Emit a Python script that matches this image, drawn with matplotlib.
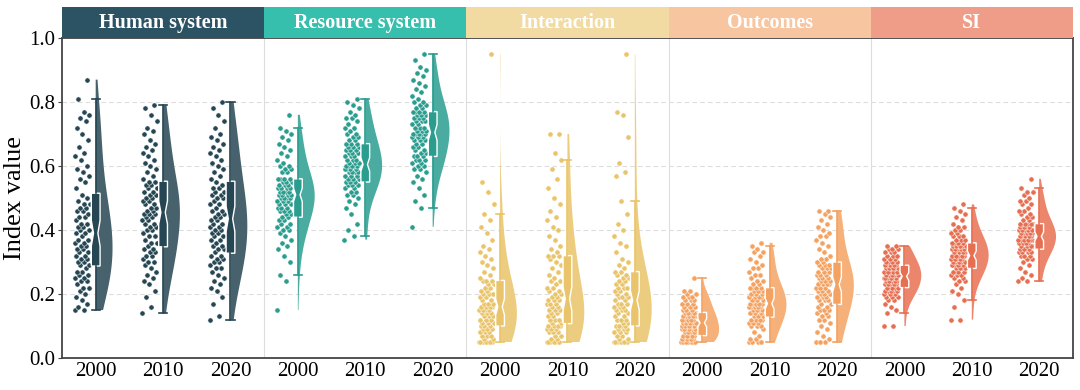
import matplotlib

matplotlib.use("Agg")
import matplotlib.pyplot as plt
import matplotlib.transforms as mtransforms
from matplotlib.patches import Rectangle
import numpy as np

plt.rcParams["font.family"] = ["Liberation Serif", "DejaVu Serif"]

PANELS = ["Human system", "Resource system", "Interaction", "Outcomes", "SI"]
YEARS = ["2000", "2010", "2020"]
COLORS = ["#264653", "#2a9d8f", "#e9c46a", "#f4a261", "#e76f51"]
HEAD_COLORS = ["#2c5364", "#35bfac", "#f2dba3", "#f7c6a1", "#ef9c88"]

human_2000 = [0.15, 0.15, 0.16, 0.17, 0.18, 0.19, 0.20, 0.21, 0.22, 0.22,
              0.23, 0.24, 0.24, 0.25, 0.25, 0.26, 0.26, 0.27, 0.27, 0.28,
              0.29, 0.29, 0.30, 0.30, 0.31, 0.31, 0.32, 0.32, 0.33, 0.33,
              0.34, 0.34, 0.35, 0.35, 0.36, 0.36, 0.37, 0.37, 0.38, 0.39,
              0.39, 0.40, 0.40, 0.41, 0.41, 0.42, 0.42, 0.43, 0.44, 0.44,
              0.45, 0.46, 0.46, 0.47, 0.47, 0.48, 0.48, 0.49, 0.50, 0.51,
              0.53, 0.55, 0.56, 0.57, 0.58, 0.59, 0.60, 0.62, 0.63, 0.64,
              0.66, 0.68, 0.70, 0.72, 0.74, 0.75, 0.76, 0.77, 0.81, 0.87]
human_2010 = [0.14, 0.16, 0.19, 0.21, 0.23, 0.24, 0.25, 0.26, 0.27, 0.28,
              0.29, 0.30, 0.30, 0.31, 0.32, 0.32, 0.33, 0.33, 0.34, 0.34,
              0.35, 0.36, 0.36, 0.37, 0.38, 0.38, 0.39, 0.40, 0.40, 0.41,
              0.41, 0.42, 0.42, 0.43, 0.43, 0.44, 0.44, 0.45, 0.45, 0.45,
              0.46, 0.46, 0.47, 0.47, 0.48, 0.48, 0.49, 0.49, 0.50, 0.50,
              0.51, 0.51, 0.52, 0.52, 0.53, 0.53, 0.54, 0.54, 0.55, 0.55,
              0.56, 0.57, 0.58, 0.59, 0.60, 0.61, 0.62, 0.63, 0.64, 0.65,
              0.66, 0.67, 0.68, 0.70, 0.71, 0.72, 0.74, 0.76, 0.78, 0.79]
human_2020 = [0.12, 0.13, 0.17, 0.19, 0.21, 0.22, 0.23, 0.24, 0.25, 0.26,
              0.27, 0.28, 0.28, 0.29, 0.30, 0.30, 0.31, 0.31, 0.32, 0.32,
              0.33, 0.34, 0.34, 0.35, 0.35, 0.36, 0.37, 0.37, 0.38, 0.38,
              0.39, 0.39, 0.40, 0.40, 0.41, 0.41, 0.42, 0.42, 0.43, 0.43,
              0.44, 0.44, 0.45, 0.45, 0.46, 0.46, 0.47, 0.48, 0.48, 0.49,
              0.50, 0.50, 0.51, 0.51, 0.52, 0.52, 0.53, 0.53, 0.54, 0.55,
              0.56, 0.57, 0.58, 0.59, 0.60, 0.61, 0.62, 0.63, 0.64, 0.65,
              0.66, 0.67, 0.68, 0.69, 0.70, 0.72, 0.74, 0.76, 0.78, 0.80]

resource_2000 = [0.15, 0.24, 0.26, 0.30, 0.32, 0.34, 0.35, 0.36, 0.37, 0.38,
                 0.39, 0.40, 0.40, 0.41, 0.41, 0.42, 0.42, 0.43, 0.43, 0.44,
                 0.44, 0.45, 0.45, 0.46, 0.46, 0.46, 0.47, 0.47, 0.47, 0.48,
                 0.48, 0.48, 0.49, 0.49, 0.49, 0.50, 0.50, 0.50, 0.50, 0.51,
                 0.51, 0.51, 0.51, 0.52, 0.52, 0.52, 0.52, 0.53, 0.53, 0.53,
                 0.53, 0.54, 0.54, 0.54, 0.55, 0.55, 0.55, 0.56, 0.56, 0.56,
                 0.56, 0.58, 0.58, 0.59, 0.59, 0.60, 0.60, 0.61, 0.62, 0.63,
                 0.64, 0.65, 0.66, 0.67, 0.68, 0.69, 0.70, 0.71, 0.72, 0.76]
resource_2010 = [0.37, 0.38, 0.40, 0.42, 0.45, 0.47, 0.48, 0.49, 0.50, 0.51,
                 0.51, 0.52, 0.52, 0.53, 0.53, 0.54, 0.54, 0.54, 0.55, 0.55,
                 0.55, 0.56, 0.56, 0.56, 0.57, 0.57, 0.57, 0.58, 0.58, 0.58,
                 0.58, 0.59, 0.59, 0.59, 0.59, 0.60, 0.60, 0.60, 0.60, 0.60,
                 0.61, 0.61, 0.61, 0.62, 0.62, 0.62, 0.63, 0.63, 0.63, 0.64,
                 0.64, 0.64, 0.65, 0.65, 0.65, 0.66, 0.66, 0.66, 0.67, 0.67,
                 0.67, 0.68, 0.68, 0.69, 0.69, 0.70, 0.70, 0.71, 0.72, 0.72,
                 0.73, 0.74, 0.75, 0.75, 0.76, 0.77, 0.78, 0.79, 0.80, 0.81]
resource_2020 = [0.41, 0.47, 0.49, 0.51, 0.53, 0.55, 0.56, 0.57, 0.58, 0.59,
                 0.59, 0.60, 0.60, 0.61, 0.61, 0.62, 0.62, 0.62, 0.63, 0.63,
                 0.63, 0.64, 0.64, 0.65, 0.65, 0.66, 0.66, 0.67, 0.67, 0.68,
                 0.68, 0.68, 0.69, 0.69, 0.69, 0.70, 0.70, 0.70, 0.70, 0.70,
                 0.71, 0.71, 0.71, 0.72, 0.72, 0.72, 0.73, 0.73, 0.74, 0.74,
                 0.74, 0.75, 0.75, 0.75, 0.76, 0.76, 0.76, 0.77, 0.77, 0.77,
                 0.77, 0.78, 0.78, 0.79, 0.79, 0.80, 0.80, 0.81, 0.82, 0.83,
                 0.84, 0.85, 0.86, 0.87, 0.88, 0.89, 0.90, 0.91, 0.93, 0.95]

interaction_2000 = [0.05, 0.05, 0.05, 0.05, 0.05, 0.05, 0.05, 0.06, 0.06, 0.07,
                    0.07, 0.07, 0.08, 0.08, 0.08, 0.09, 0.09, 0.09, 0.10, 0.10,
                    0.10, 0.11, 0.11, 0.11, 0.12, 0.12, 0.12, 0.13, 0.13, 0.13,
                    0.14, 0.14, 0.14, 0.15, 0.15, 0.15, 0.15, 0.16, 0.16, 0.16,
                    0.16, 0.17, 0.17, 0.17, 0.18, 0.18, 0.19, 0.19, 0.20, 0.20,
                    0.20, 0.21, 0.21, 0.22, 0.22, 0.23, 0.23, 0.24, 0.24, 0.24,
                    0.25, 0.26, 0.27, 0.28, 0.29, 0.30, 0.31, 0.32, 0.33, 0.34,
                    0.35, 0.37, 0.39, 0.41, 0.43, 0.45, 0.48, 0.52, 0.55, 0.95]
interaction_2010 = [0.05, 0.05, 0.05, 0.05, 0.05, 0.05, 0.06, 0.06, 0.07, 0.07,
                    0.08, 0.08, 0.08, 0.09, 0.09, 0.09, 0.10, 0.10, 0.10, 0.10,
                    0.11, 0.11, 0.12, 0.12, 0.12, 0.13, 0.13, 0.14, 0.14, 0.15,
                    0.15, 0.15, 0.16, 0.16, 0.17, 0.17, 0.17, 0.18, 0.18, 0.18,
                    0.19, 0.19, 0.20, 0.20, 0.21, 0.21, 0.22, 0.22, 0.23, 0.24,
                    0.24, 0.25, 0.26, 0.27, 0.28, 0.29, 0.30, 0.31, 0.32, 0.32,
                    0.32, 0.33, 0.34, 0.35, 0.37, 0.38, 0.40, 0.41, 0.43, 0.44,
                    0.46, 0.48, 0.50, 0.53, 0.56, 0.59, 0.62, 0.64, 0.70, 0.70]
interaction_2020 = [0.05, 0.05, 0.05, 0.05, 0.05, 0.05, 0.05, 0.06, 0.06, 0.07,
                    0.07, 0.08, 0.08, 0.08, 0.09, 0.09, 0.09, 0.10, 0.10, 0.10,
                    0.10, 0.11, 0.11, 0.12, 0.12, 0.12, 0.13, 0.13, 0.14, 0.14,
                    0.15, 0.15, 0.15, 0.16, 0.16, 0.16, 0.17, 0.17, 0.17, 0.18,
                    0.18, 0.19, 0.19, 0.19, 0.20, 0.20, 0.21, 0.21, 0.22, 0.22,
                    0.22, 0.23, 0.23, 0.24, 0.24, 0.25, 0.25, 0.26, 0.26, 0.27,
                    0.27, 0.28, 0.29, 0.30, 0.31, 0.33, 0.35, 0.36, 0.38, 0.40,
                    0.42, 0.45, 0.49, 0.57, 0.58, 0.61, 0.69, 0.76, 0.77, 0.95]

outcomes_2000 = [0.05, 0.05, 0.05, 0.05, 0.05, 0.05, 0.05, 0.05, 0.05, 0.06,
                 0.06, 0.06, 0.06, 0.06, 0.06, 0.07, 0.07, 0.07, 0.07, 0.07,
                 0.07, 0.08, 0.08, 0.08, 0.08, 0.08, 0.09, 0.09, 0.09, 0.09,
                 0.09, 0.09, 0.10, 0.10, 0.10, 0.10, 0.10, 0.10, 0.10, 0.11,
                 0.11, 0.11, 0.11, 0.11, 0.12, 0.12, 0.12, 0.12, 0.12, 0.13,
                 0.13, 0.13, 0.13, 0.13, 0.14, 0.14, 0.14, 0.14, 0.14, 0.14,
                 0.15, 0.15, 0.15, 0.16, 0.16, 0.16, 0.17, 0.17, 0.17, 0.18,
                 0.18, 0.18, 0.19, 0.19, 0.19, 0.20, 0.20, 0.21, 0.21, 0.25]
outcomes_2010 = [0.05, 0.05, 0.05, 0.05, 0.06, 0.06, 0.07, 0.08, 0.09, 0.10,
                 0.10, 0.10, 0.11, 0.11, 0.11, 0.11, 0.12, 0.12, 0.12, 0.12,
                 0.13, 0.13, 0.13, 0.14, 0.14, 0.14, 0.14, 0.15, 0.15, 0.15,
                 0.15, 0.16, 0.16, 0.16, 0.16, 0.16, 0.17, 0.17, 0.17, 0.17,
                 0.17, 0.18, 0.18, 0.18, 0.18, 0.19, 0.19, 0.19, 0.19, 0.20,
                 0.20, 0.20, 0.20, 0.21, 0.21, 0.21, 0.21, 0.22, 0.22, 0.22,
                 0.22, 0.23, 0.23, 0.24, 0.24, 0.25, 0.26, 0.26, 0.27, 0.28,
                 0.28, 0.29, 0.30, 0.31, 0.32, 0.33, 0.33, 0.34, 0.35, 0.36]
outcomes_2020 = [0.05, 0.05, 0.05, 0.06, 0.07, 0.08, 0.09, 0.10, 0.11, 0.12,
                 0.12, 0.13, 0.13, 0.14, 0.14, 0.15, 0.15, 0.15, 0.16, 0.16,
                 0.17, 0.17, 0.18, 0.18, 0.18, 0.19, 0.19, 0.19, 0.20, 0.20,
                 0.20, 0.21, 0.21, 0.21, 0.22, 0.22, 0.22, 0.23, 0.23, 0.23,
                 0.23, 0.24, 0.24, 0.24, 0.25, 0.25, 0.25, 0.26, 0.26, 0.26,
                 0.27, 0.27, 0.27, 0.28, 0.28, 0.28, 0.29, 0.29, 0.29, 0.30,
                 0.30, 0.31, 0.31, 0.32, 0.33, 0.34, 0.35, 0.36, 0.37, 0.38,
                 0.38, 0.39, 0.40, 0.41, 0.42, 0.43, 0.44, 0.45, 0.46, 0.46]

si_2000 = [0.10, 0.10, 0.14, 0.15, 0.16, 0.17, 0.18, 0.18, 0.19, 0.19,
           0.19, 0.20, 0.20, 0.20, 0.21, 0.21, 0.21, 0.21, 0.21, 0.22,
           0.22, 0.22, 0.22, 0.22, 0.23, 0.23, 0.23, 0.23, 0.23, 0.24,
           0.24, 0.24, 0.24, 0.24, 0.25, 0.25, 0.25, 0.25, 0.25, 0.25,
           0.26, 0.26, 0.26, 0.26, 0.26, 0.27, 0.27, 0.27, 0.27, 0.27,
           0.27, 0.28, 0.28, 0.28, 0.28, 0.28, 0.28, 0.29, 0.29, 0.29,
           0.29, 0.29, 0.30, 0.30, 0.30, 0.30, 0.31, 0.31, 0.31, 0.32,
           0.32, 0.32, 0.33, 0.33, 0.33, 0.34, 0.34, 0.34, 0.35, 0.35]
si_2010 = [0.12, 0.12, 0.16, 0.18, 0.20, 0.21, 0.22, 0.23, 0.24, 0.24,
           0.25, 0.25, 0.26, 0.26, 0.26, 0.27, 0.27, 0.27, 0.27, 0.28,
           0.28, 0.28, 0.28, 0.29, 0.29, 0.29, 0.29, 0.30, 0.30, 0.30,
           0.30, 0.30, 0.31, 0.31, 0.31, 0.31, 0.31, 0.32, 0.32, 0.32,
           0.32, 0.32, 0.33, 0.33, 0.33, 0.33, 0.34, 0.34, 0.34, 0.34,
           0.34, 0.35, 0.35, 0.35, 0.35, 0.35, 0.35, 0.36, 0.36, 0.36,
           0.36, 0.37, 0.37, 0.37, 0.38, 0.38, 0.38, 0.39, 0.39, 0.40,
           0.40, 0.41, 0.41, 0.42, 0.43, 0.44, 0.45, 0.46, 0.47, 0.48]
si_2020 = [0.24, 0.24, 0.25, 0.26, 0.27, 0.28, 0.29, 0.30, 0.31, 0.31,
           0.32, 0.32, 0.32, 0.33, 0.33, 0.33, 0.33, 0.34, 0.34, 0.34,
           0.34, 0.35, 0.35, 0.35, 0.35, 0.36, 0.36, 0.36, 0.36, 0.37,
           0.36, 0.37, 0.37, 0.37, 0.37, 0.37, 0.38, 0.38, 0.38, 0.38,
           0.38, 0.39, 0.39, 0.39, 0.39, 0.39, 0.40, 0.40, 0.40, 0.40,
           0.40, 0.41, 0.41, 0.41, 0.41, 0.42, 0.42, 0.42, 0.42, 0.42,
           0.42, 0.43, 0.43, 0.44, 0.44, 0.45, 0.45, 0.46, 0.46, 0.47,
           0.48, 0.48, 0.49, 0.49, 0.50, 0.51, 0.52, 0.52, 0.53, 0.56]

GROUPS = [
    [human_2000, human_2010, human_2020],
    [resource_2000, resource_2010, resource_2020],
    [interaction_2000, interaction_2010, interaction_2020],
    [outcomes_2000, outcomes_2010, outcomes_2020],
    [si_2000, si_2010, si_2020],
]


def lighten(c, alpha):
    rgb = np.array(matplotlib.colors.to_rgb(c))
    return tuple(rgb * alpha + (1 - alpha))


fig = plt.figure(figsize=(10.8, 3.9), dpi=100)
ax = fig.add_axes([0.0574, 0.082, 0.936, 0.8205])

for p, (series, col) in enumerate(zip(GROUPS, COLORS)):
    for k, vals in enumerate(series):
        pos = p * 3 + k
        vals = np.asarray(vals)

        # half violin (right side)
        vp = ax.violinplot([vals], positions=[pos], widths=0.5, bw_method=0.5,
                           showextrema=False, showmedians=False)
        for body in vp["bodies"]:
            verts = body.get_paths()[0].vertices
            verts[:, 0] = np.clip(verts[:, 0], pos, np.inf)
            body.set_facecolor(lighten(col, 0.85))
            body.set_edgecolor("none")
            body.set_alpha(1)
            body.set_zorder(1)

        # notched box
        ax.boxplot([vals], positions=[pos], widths=0.13, notch=True,
                   patch_artist=True, showfliers=False, capwidths=0.12,
                   boxprops=dict(facecolor=col, edgecolor="white", linewidth=1.0),
                   medianprops=dict(linewidth=0),
                   whiskerprops=dict(color=col, linewidth=1.2),
                   capprops=dict(color=col, linewidth=1.2),
                   zorder=3)

        # jittered points on the left
        idx = np.arange(len(vals))
        jit = ((idx * 0.618034) % 1.0) * 2 - 1
        ax.scatter(pos - 0.2 + 0.11 * jit, vals, s=14, color=col,
                   edgecolor="white", linewidth=0.35, zorder=2)

ax.set_xlim(-0.5, 14.5)
ax.set_ylim(0, 1.0)
ax.set_xticks(range(15))
ax.set_xticklabels(YEARS * 5, fontsize=15)
ax.set_yticks([0.0, 0.2, 0.4, 0.6, 0.8, 1.0])
ax.set_yticklabels(["0.0", "0.2", "0.4", "0.6", "0.8", "1.0"], fontsize=15)
ax.tick_params(axis="x", length=0, pad=3)
ax.tick_params(axis="y", length=3, color="#444444", pad=2)
ax.set_ylabel("Index value", fontsize=19, labelpad=2)

for y in [0.2, 0.4, 0.6, 0.8]:
    ax.axhline(y, color="#dddddd", lw=0.8, ls=(0, (4, 3)), zorder=0)
for x in [2.5, 5.5, 8.5, 11.5]:
    ax.axvline(x, color="#dddddd", lw=0.8, zorder=0)

for s in ax.spines.values():
    s.set_color("#444444")
    s.set_linewidth(1.3)

# panel headers
trans = mtransforms.blended_transform_factory(ax.transData, ax.transAxes)
for p, (name, hc) in enumerate(zip(PANELS, HEAD_COLORS)):
    ax.add_patch(Rectangle((p * 3 - 0.5, 1.0), 3, 0.097, transform=trans,
                           facecolor=hc, edgecolor="none", clip_on=False, zorder=5))
    ax.text(p * 3 + 1, 1.0485, name, transform=trans, ha="center", va="center",
            color="white", fontsize=14.5, fontweight="bold", zorder=6)

fig.savefig("out.png", dpi=100)
